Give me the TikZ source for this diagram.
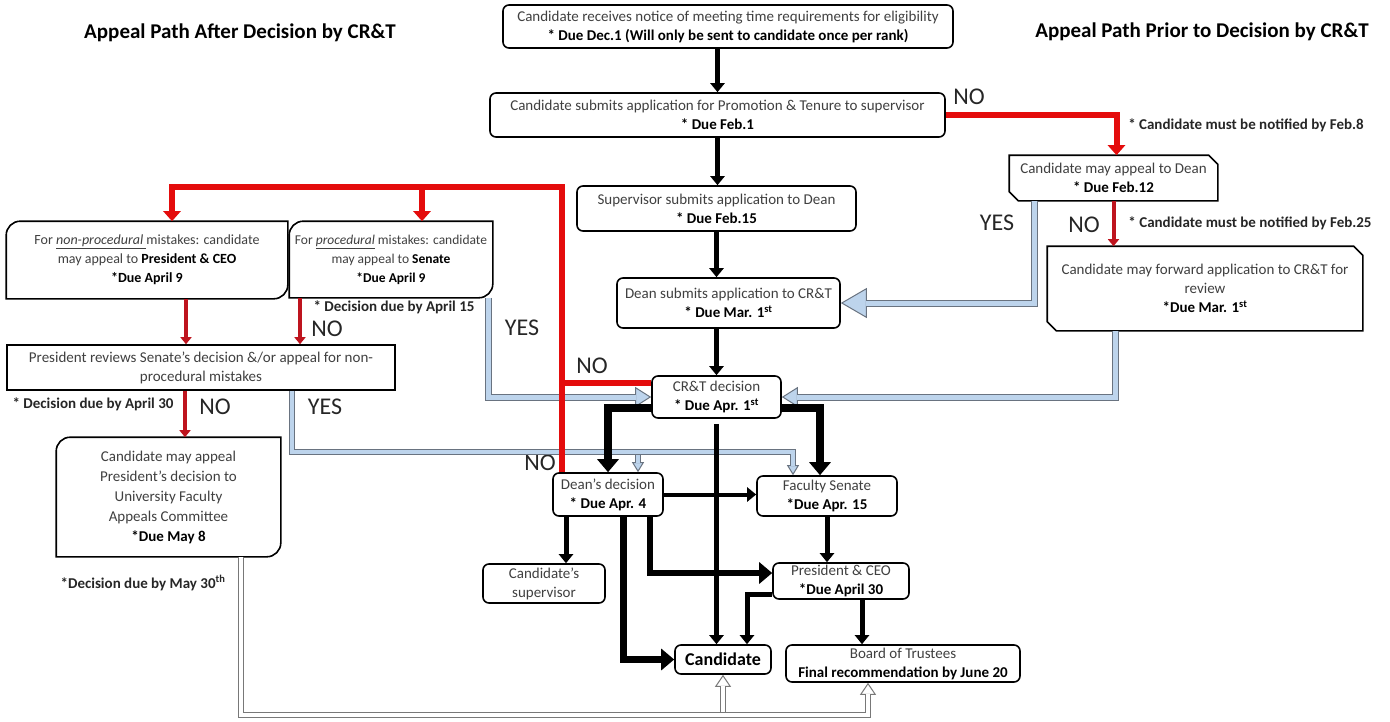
\documentclass[tikz,border=0pt]{standalone}
\usepackage{fontspec}
\setmainfont{Carlito}
\usetikzlibrary{arrows.meta}

\definecolor{txtgray}{RGB}{64,64,64}
\definecolor{nored}{RGB}{228,12,12}
\definecolor{nodark}{RGB}{190,20,30}
\definecolor{yesblue}{RGB}{189,212,236}
\definecolor{yesedge}{RGB}{105,115,128}
\definecolor{holledge}{RGB}{120,120,120}

\newcommand\duetxt[1]{\textcolor{black}{\textbf{#1}}}
\newcommand\diagcorners[1]{\draw[boxline] (#1.west) [rounded corners=14pt] |- (#1.north) [sharp corners] -| (#1.east) [rounded corners=14pt] |- (#1.south) [sharp corners] -| cycle;}
\newcommand\snipcorners[1]{\draw[boxline] (#1.north west) -- ([xshift=-9pt]#1.north east) -- ([yshift=-9pt]#1.north east) -- (#1.south east) -- ([xshift=9pt]#1.south west) -- ([yshift=9pt]#1.south west) -- cycle;}

\begin{document}
\begin{tikzpicture}
    [x=1pt,y=-1pt,
    box/.style={draw,line width=1.6pt,rounded corners=6pt,fill=white,align=center,text=txtgray,inner sep=1pt,font=\fontsize{15}{19}\selectfont},
    plainbox/.style={box,draw=none},
    boxline/.style={line width=1.6pt},
    note/.style={text=black!85,font=\fontsize{15}{18}\selectfont\bfseries},
    answer/.style={text=black!85,font=\fontsize{24}{26}\selectfont},
    heading/.style={font=\fontsize{21}{24}\selectfont\bfseries},
    flow/.style={line width=5pt,-{Triangle[length=9pt,width=14pt]}},
    bigflow/.style={line width=8pt,-{Triangle[length=13pt,width=21pt]}},
    nopath/.style={draw=nored,line width=6pt,-{Triangle[length=10pt,width=17pt]}},
    nothin/.style={draw=nodark,line width=4pt,-{Triangle[length=7pt,width=11pt]}},
    yespath/.style={draw=yesedge,line width=7pt,-{Triangle[length=16pt,width=20pt,fill=yesblue,line width=1pt]},
        postaction={draw=yesblue,line width=5pt,-,shorten >=15pt}},
    yesbig/.style={draw=yesedge,line width=7pt,-{Triangle[length=26pt,width=30pt,fill=yesblue,line width=1pt]},
        postaction={draw=yesblue,line width=5pt,-,shorten >=25pt}},
    yesthin/.style={draw=yesedge,line width=6pt,-{Triangle[length=10pt,width=12pt,fill=yesblue,line width=1pt]},
        postaction={draw=yesblue,line width=4pt,-,shorten >=9pt}},
    hollow/.style={draw=holledge,line width=6pt,-{Triangle[length=12pt,width=16pt,fill=white,line width=1pt]},
        postaction={draw=white,line width=4pt,-,shorten >=11pt}}]

    %\draw[help lines,step=50] (0,0) grid (1390,721);
    \useasboundingbox (0,0) rectangle (1390,721);

    \node[heading] (lefttitle) at (240,33) {Appeal Path After Decision by CR\&T};
    \node[heading] (righttitle) at (1202,32) {Appeal Path Prior to Decision by CR\&T};

    \node[box,minimum width=450pt,minimum height=43pt] (notice) at (728,26.5)
        {Candidate receives notice of meeting time requirements for eligibility\\ \duetxt{* Due Dec.1 (Will only be sent to candidate once per rank)}};
    \node[box,minimum width=455pt,minimum height=44pt] (submit) at (717.5,115)
        {Candidate submits application for Promotion \& Tenure to supervisor\\ \duetxt{* Due Feb.1}};
    \node[box,minimum width=279pt,minimum height=45pt] (supdean) at (716.5,208.5)
        {Supervisor submits application to Dean\\ \duetxt{* Due Feb.15}};
    \node[box,minimum width=223pt,minimum height=50pt] (deancrt) at (728.5,303)
        {Dean submits application to CR\&T\\ \duetxt{* Due Mar. 1\textsuperscript{st}}};
    \node[box,minimum width=129pt,minimum height=42pt] (crt) at (716.5,397)
        {CR\&T decision\\ \duetxt{* Due Apr. 1\textsuperscript{st}}};
    \node[box,minimum width=110pt,minimum height=43pt] (dean) at (608,494.5)
        {Dean’s decision\\ \duetxt{* Due Apr. 4}};
    \node[box,minimum width=140pt,minimum height=40pt] (senate) at (827,496)
        {Faculty Senate\\ \duetxt{*Due Apr. 15}};
    \node[box,minimum width=136pt,minimum height=36pt] (pres) at (841,581)
        {President \& CEO\\ \duetxt{*Due April 30}};
    \node[box,minimum width=122pt,minimum height=39pt] (sup) at (544,583.5)
        {Candidate’s\\ supervisor};
    \node[box,minimum width=96pt,minimum height=29pt,font=\fontsize{18}{20}\selectfont\bfseries,text=black] (cand) at (723,659.5)
        {Candidate};
    \node[box,minimum width=234pt,minimum height=37pt] (board) at (903,663.5)
        {Board of Trustees\\ \duetxt{Final recommendation by June 20}};

    \node[plainbox,minimum width=207pt,minimum height=44pt] (deanapp) at (1113.5,178)
        {Candidate may appeal to Dean\\ \duetxt{* Due Feb.12}};
    \node[plainbox,minimum width=314pt,minimum height=83pt] (forward) at (1205,288.5)
        {Candidate may forward application to CR\&T for\\ review\\ \duetxt{*Due Mar. 1\textsuperscript{st}}};
    \node[plainbox,minimum width=280pt,minimum height=76pt,font=\fontsize{14}{19}\selectfont] (nonproc) at (147,260)
        {For \underline{\textit{non-procedural }}mistakes: candidate\\ may appeal to \duetxt{President \& CEO}\\ \duetxt{*Due April 9}};
    \node[plainbox,minimum width=202pt,minimum height=75pt,font=\fontsize{13.5}{19}\selectfont] (proc) at (391,259.5)
        {For \underline{\textit{procedural}} mistakes: candidate\\ may appeal to \duetxt{Senate}\\ \duetxt{*Due April 9}};
    \node[box,sharp corners,minimum width=388pt,minimum height=45pt] (review) at (201,367.5)
        {President reviews Senate’s decision \&/or appeal for non-\\ procedural mistakes};
    \node[plainbox,minimum width=223pt,minimum height=118pt,font=\fontsize{15}{20}\selectfont] (ufac) at (168.5,497)
        {Candidate may appeal\\ President’s decision to\\ University Faculty\\ Appeals Committee\\ \duetxt{*Due May 8}};

    \snipcorners{deanapp}
    \snipcorners{forward}
    \diagcorners{nonproc}
    \diagcorners{proc}
    \diagcorners{ufac}

    \node[answer] (nosubmit) at (969,97) {NO};
    \node[note] (feb8) at (1246,125) {* Candidate must be notified by Feb.8};
    \node[answer] (yesdean) at (997,223) {YES};
    \node[answer] (nodean) at (1084,225) {NO};
    \node[note] (feb25) at (1250,223) {* Candidate must be notified by Feb.25};
    \node[note] (apr15) at (394,307) {* Decision due by April 15};
    \node[answer] (nosenate) at (327,329) {NO};
    \node[answer] (yessenate) at (522,328) {YES};
    \node[answer] (nocrt) at (592,366) {NO};
    \node[note] (apr30) at (93,404) {* Decision due by April 30};
    \node[answer] (nopres) at (215,407) {NO};
    \node[answer] (yespres) at (325,407) {YES};
    \node[answer] (nodeans) at (540,463) {NO};
    \node[note] (may30) at (143,583) {*Decision due by May 30\textsuperscript{th}};

    \coordinate (yesbus) at (0,452);
    \coordinate (nobus) at (0,187);
    \coordinate (hollbus) at (0,715);
    \coordinate (redx) at ([xshift=10pt]dean.north west);
    \coordinate (crtno) at ([yshift=14pt]crt.west);

    \draw[yesbig] ([xshift=25pt]deanapp.south west) |- (deancrt.east);
    \draw[yespath] ([xshift=-90pt]forward.south) |- (crt.east);
    \draw[yespath] ([xshift=-4pt]proc.south east) |- (crt.west);
    \draw[yesthin] ([xshift=30pt]dean.north |- yesbus) -- ([xshift=30pt]dean.north);
    \draw[yesthin] ([xshift=91pt]review.south) |- ([xshift=-34pt]senate.north |- yesbus) -- ([xshift=-34pt]senate.north);

    \draw[nopath] (submit.east) -| ([xshift=3pt]deanapp.north);
    \draw[nothin] (deanapp.south) -- (deanapp.south |- forward.north);
    \draw[nopath] (redx) |- ([xshift=25pt]nonproc.north |- nobus) -- ([xshift=25pt]nonproc.north);
    \draw[nopath] ([xshift=31pt]proc.north |- nobus) -- ([xshift=31pt]proc.north);
    \draw[nopath,-] (crtno) -- (crtno -| redx);
    \draw[nothin] ([xshift=39pt]nonproc.south) -- ([xshift=39pt]nonproc.south |- review.north);
    \draw[nothin] ([xshift=-91pt]proc.south) -- ([xshift=-91pt]proc.south |- review.north);
    \draw[nothin] ([xshift=-16pt]review.south) -- ([xshift=-16pt]review.south |- ufac.north);

    \draw[flow] (notice.south -| submit.north) -- (submit.north);
    \draw[flow] (submit.south) -- (submit.south |- supdean.north);
    \draw[flow] (supdean.south) -- (supdean.south |- deancrt.north);
    \draw[flow] (deancrt.south -| crt.north) -- (crt.north);
    \draw[bigflow] ([yshift=-11pt]crt.west) -| (dean.north);
    \draw[bigflow] ([yshift=-11pt]crt.east) -| ([xshift=-7pt]senate.north);
    \draw[flow,shorten <=5pt] (crt.south) -- (crt.south |- cand.north);
    \draw[flow,line width=4pt] (dean.east) -- (dean.east -| senate.west);
    \draw[flow] ([xshift=-42pt]dean.south) -- ([xshift=-42pt]dean.south |- sup.north);
    \draw[bigflow,line width=6pt] ([xshift=42pt]dean.south) |- ([yshift=8pt]pres.west);
    \draw[bigflow,line width=7pt] ([xshift=15pt]dean.south) |- (cand.west);
    \draw[flow] (senate.south) -- (senate.south |- pres.north);
    \draw[flow] ([yshift=-13pt]pres.west) -| ([xshift=24pt]cand.north);
    \draw[flow] ([xshift=21pt]pres.south) -- ([xshift=21pt]pres.south |- board.north);

    \draw[hollow] (cand.south |- hollbus) -- (cand.south);
    \draw[hollow] ([xshift=72pt]ufac.south) |- ([xshift=-35pt]board.south |- hollbus) -- ([xshift=-35pt]board.south);
\end{tikzpicture}
\end{document}
